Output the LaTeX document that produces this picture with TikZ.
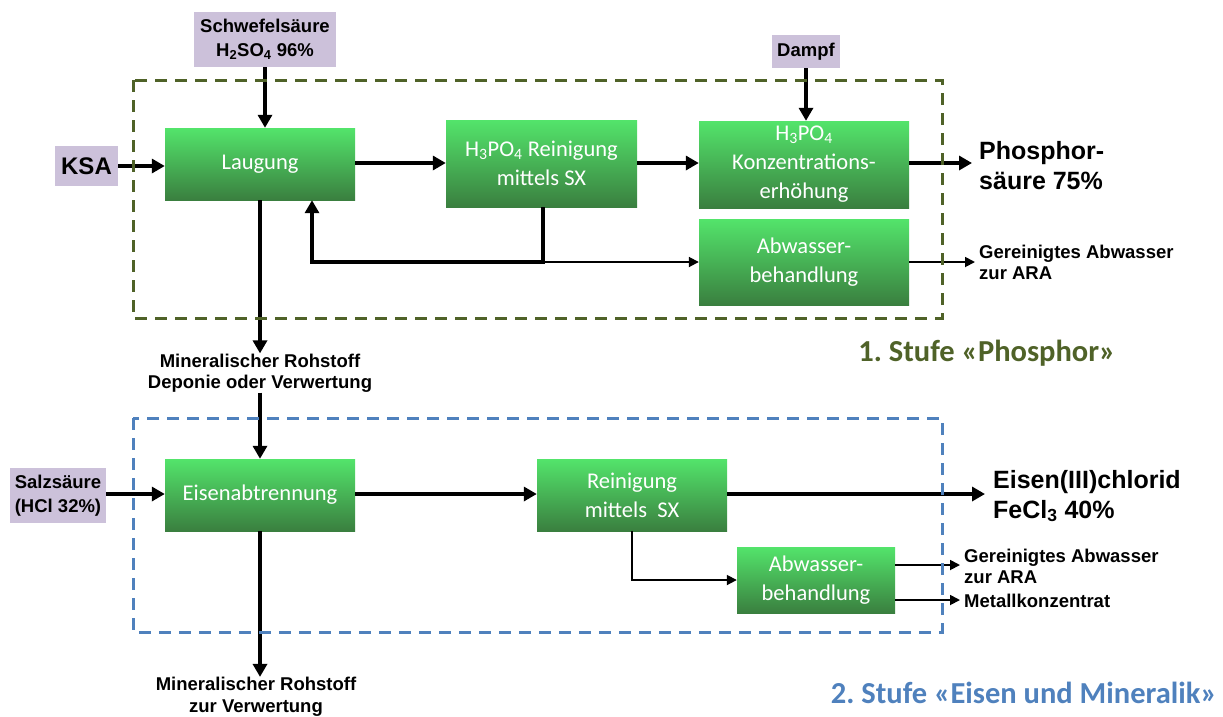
\documentclass[tikz,border=0pt]{standalone}
\usepackage{fontspec}
\setmainfont{Liberation Sans}
\newfontfamily\calfont{Carlito}
\usetikzlibrary{arrows.meta}
\definecolor{gtop}{HTML}{53E46B}
\definecolor{gmid}{HTML}{4AC35E}
\definecolor{gbot}{HTML}{3A7F3F}
\definecolor{lila}{HTML}{CCC1DA}
\definecolor{olivegr}{HTML}{4F6228}
\definecolor{blu}{HTML}{4F81BD}
\frenchspacing
\begin{document}
\begin{tikzpicture}[x=1pt,y=-1pt,
  proc/.style={rectangle, inner sep=0pt, top color=gtop, middle color=gmid, bottom color=gbot, draw=none, text=white, font=\calfont\fontsize{22.5}{29}\selectfont, align=center},
  feed/.style={rectangle, inner sep=0pt, fill=lila, font=\bfseries\fontsize{18.5}{24}\selectfont, align=center},
  outtxt/.style={inner sep=0pt, align=left, font=\bfseries\fontsize{18.5}{21.5}\selectfont},
  bigtxt/.style={inner sep=0pt, align=left, font=\bfseries\fontsize{25}{30}\selectfont},
  stagetxt/.style={inner sep=0pt, font=\calfont\bfseries\fontsize{30.5}{34}\selectfont},
  fatarrow/.style={line width=4pt, -{Triangle[length=13pt,width=14pt]}},
  finearrow/.style={line width=1.8pt, -{Triangle[length=10pt,width=10pt]}},
  stagebox/.style={line width=3pt, dash pattern=on 12pt off 8pt}]
\useasboundingbox (0,0) rectangle (1223,716);

% Stage 1 nodes
\node[feed, minimum width=142pt, minimum height=55pt] (schw) at (265,39.5) {Schwefelsäure\\H\textsubscript{2}SO\textsubscript{4} 96\%};
\node[feed, minimum width=63pt, minimum height=40pt, font=\bfseries\fontsize{24}{28}\selectfont] (ksa) at (86.5,166) {KSA};
\node[feed, minimum width=68pt, minimum height=33pt] (dampf) at (806,51.5) {Dampf};
\node[proc, minimum width=190pt, minimum height=72pt] (laug) at (260,164) {Laugung};
\node[proc, minimum width=191pt, minimum height=87pt] (rein1) at (541.5,163.5) {H\textsubscript{3}PO\textsubscript{4} Reinigung\\mittels SX};
\node[proc, minimum width=210pt, minimum height=87pt] (konz) at (804,164.5) {H\textsubscript{3}PO\textsubscript{4}\\Konzentrations-\\erhöhung};
\node[proc, minimum width=210pt, minimum height=86pt] (abw1) at (804,262) {Abwasser-\\behandlung};
\node[bigtxt, anchor=west] (phos) at (979,166) {Phosphor-\\säure 75\%};
\node[outtxt, anchor=west] (ara1) at (979,262.5) {Gereinigtes Abwasser\\zur ARA};
\node[outtxt, align=center] (min1) at (260,373) {Mineralischer Rohstoff\\Deponie oder Verwertung};
\node[stagetxt, text=olivegr] (st1) at (987,353) {1. Stufe «Phosphor»};

% Stage 2 nodes
\node[feed, minimum width=96pt, minimum height=55pt] (salz) at (58,495.5) {Salzsäure\\(HCl 32\%)};
\node[proc, minimum width=190pt, minimum height=72pt] (eisen) at (260,495) {Eisenabtrennung};
\node[proc, minimum width=190pt, minimum height=72pt] (rein2) at (632,495) {Reinigung\\mittels~ SX};
\node[proc, minimum width=158pt, minimum height=66pt] (abw2) at (816,580) {Abwasser-\\behandlung};
\node[bigtxt, anchor=west] (fecl) at (993,496) {Eisen(III)chlorid\\FeCl\textsubscript{3} 40\%};
\node[outtxt, anchor=west] (ara2) at (964,566.5) {Gereinigtes Abwasser\\zur ARA};
\node[outtxt, anchor=west] (metall) at (964,601) {Metallkonzentrat};
\node[outtxt, align=center] (min2) at (256,696.5) {Mineralischer Rohstoff\\zur Verwertung};
\node[stagetxt, text=blu, anchor=east] (st2) at (1217,693) {2. Stufe «Eisen und Mineralik»};

% coordinates
\coordinate (fbR) at (543,262);
\coordinate (fbL) at (312,262);
\coordinate (o1) at (972,163);
\coordinate (o2) at (975,262);
\coordinate (o3) at (985,494);
\coordinate (o4) at (960,565);
\coordinate (o5) at (960,600);

% Stage 1 connectors
\draw[fatarrow] (schw.south) -- (schw.south |- laug.north);
\draw[fatarrow] (ksa.east) -- (ksa.east -| laug.west);
\draw[fatarrow] (dampf.south) -- (dampf.south |- konz.north);
\draw[fatarrow] (laug.east |- 0,163) -- (rein1.west |- 0,163);
\draw[fatarrow] (rein1.east |- 0,163) -- (konz.west |- 0,163);
\draw[fatarrow] (konz.east |- o1) -- (o1);
\draw[fatarrow, miter limit=10] (rein1.south -| fbR) -- (fbR) -- (fbL) -- (fbL |- laug.south);
\draw[finearrow] (fbR) -- (abw1.west |- fbR);
\draw[finearrow] (abw1.east |- o2) -- (o2);
\draw[fatarrow] (laug.south) -- (laug.south |- min1.north);
\draw[fatarrow] (laug.south |- min1.south) -- (eisen.north);

% Stage 2 connectors
\draw[fatarrow] (salz.east |- 0,494) -- (eisen.west |- 0,494);
\draw[fatarrow] (eisen.east |- 0,494) -- (rein2.west |- 0,494);
\draw[fatarrow] (rein2.east |- o3) -- (o3);
\draw[finearrow] (rein2.south) |- (abw2.west);
\draw[finearrow] (abw2.east |- o4) -- (o4);
\draw[finearrow] (abw2.east |- o5) -- (o5);
\draw[fatarrow] (eisen.south) -- (eisen.south |- min2.north);

% stage frames
\draw[stagebox, olivegr] (133,80) rectangle (942,318);
\draw[stagebox, blu] (133,418) rectangle (942,632);
\end{tikzpicture}
\end{document}
